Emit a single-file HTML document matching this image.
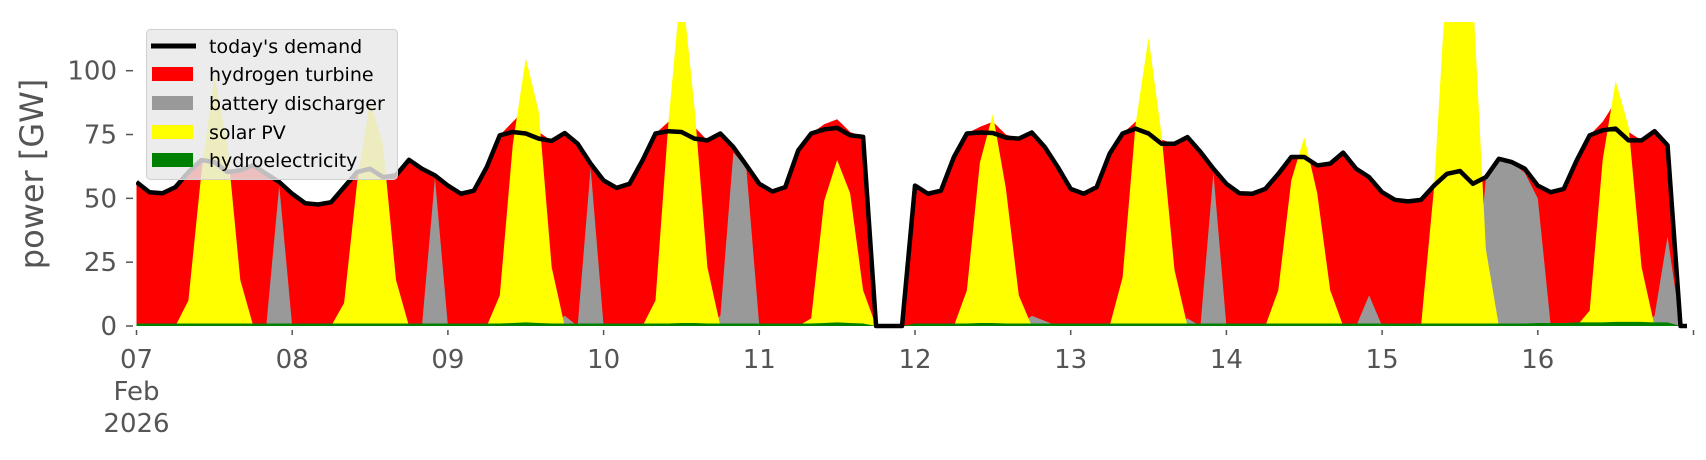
<!DOCTYPE html>
<html><head><meta charset="utf-8"><style>
html,body{margin:0;padding:0;background:#fff;}
svg{display:block;font-family:"DejaVu Sans","Liberation Sans",sans-serif;}
</style></head><body>
<svg id="chart" width="1706" height="460" viewBox="0 0 1706 460">
<defs><clipPath id="plotclip"><rect x="136" y="22" width="1552" height="310"/></clipPath></defs>
<g id="plot" clip-path="url(#plotclip)"></g>
<g id="axes"></g>
<text x="34" y="174" font-size="32" fill="#555" text-anchor="middle" dominant-baseline="middle" transform="rotate(-90 34 174)">power [GW]</text>
<g id="legend">
<rect x="146.5" y="29.5" width="251" height="150" rx="4" fill="rgba(232,232,232,0.82)" stroke="#d0d0d0"/>
<g><line x1="151" y1="46" x2="196" y2="46" stroke="#000" stroke-width="5"/><text x="209" y="53" font-size="19">today's demand</text></g>
<g><rect x="152" y="67" width="41" height="14" fill="#ff0000"/><text x="209" y="81" font-size="19">hydrogen turbine</text></g>
<g><rect x="152" y="96" width="41" height="14" fill="#999"/><text x="209" y="110" font-size="19">battery discharger</text></g>
<g><rect x="152" y="125" width="41" height="14" fill="#ffff00"/><text x="209" y="139" font-size="19">solar PV</text></g>
<g><rect x="152" y="153" width="41" height="14" fill="#008000"/><text x="209" y="167" font-size="19">hydroelectricity</text></g>
</g>
</svg>
<script>
// 2-hour samples, 12 per day, starting 07 Feb 00:00
const demand = [
56.4,52.4,52,54.4,60.3,65,64.2,60.3,61,63,59.6,56.4,
51.8,48.1,47.6,48.5,54.4,60.3,61.6,58.3,59,65.1,61.6,59,
55,51.8,53,62.3,74.7,76,75.4,73.4,72.5,75.6,71.4,63.6,
57,54.1,55.7,64.9,75.4,76.3,76,73.4,72.7,75.4,70.1,63,
55.7,52.7,54.4,68.8,75.4,77,77.6,74.7,74.1,0,0,0,
55,51.8,53,66.2,75.4,75.8,75.6,73.8,73.4,75.8,70.1,62.3,
53.7,51.8,54.4,67.5,75.4,77.3,75.4,71.4,71.4,74,68.2,61.6,
55.7,52,51.8,53.7,59.6,66.2,66.2,62.9,63.6,67.9,61.6,58.3,
52.4,49.4,48.8,49.4,55,59.6,60.7,55.7,58.3,65.5,64.2,61.6,
55,52.4,53.7,64.9,74.7,76.7,77.3,72.7,72.7,76.3,70.8,0];
const hydrogen = [
56.4,52.4,52,54.4,60.3,65,64.2,60.3,61,63,59.6,56.4,
51.8,48.1,47.6,48.5,54.4,60.3,61.6,58.3,59,65.1,61.6,59,
55,51.8,53,62.3,74.7,80,85,76,72.5,75.6,71.4,63.6,
57,54.1,55.7,64.9,75.4,80,95,78,72.7,75.4,70.1,63,
55.7,52.7,54.4,68.8,75.4,79,81,76,74.1,0,0,0,
55,51.8,53,66.2,75.4,78,80,75,73.4,75.8,70.1,62.3,
53.7,51.8,54.4,67.5,75.4,80,85,73,71.4,74,68.2,61.6,
55.7,52,51.8,53.7,59.6,66.2,66.2,62.9,63.6,67.9,61.6,58.3,
52.4,49.4,48.8,49.4,55,59.6,60.7,55.7,58.3,65.5,64.2,61.6,
55,52.4,53.7,64.9,74.7,80,88,76,72.7,76.3,70.8,0];
const battery = [
0,0,0,0,0,0,0,0,0,0,0,55,
0,0,0,0,0,0,0,0,0,0,0,58,
0,0,0,0,0,0,0,0,0,4,0,62,
0,0,0,0,0,0,0,0,0,4,68,62,
0,0,0,0,0,0,0,0,0,0,0,0,
0,0,0,0,0,0,0,0,0,4,2,0,
0,0,0,0,0,0,0,0,0,3,0,60,
0,0,0,0,0,0,0,0,0,0,0,12,
0,0,0,0,0,0,0,0,58,65,64,60,
50,0,0,0,0,0,0,0,0,4,35,0];
const solar = [
0,0,0,0,10,60,98,71,18,0,0,0,
0,0,0,0,9,56,88,71,18,0,0,0,
0,0,0,0,12,71,105,84,23,0,0,0,
0,0,0,0,10,80,135,86,23,0,0,0,
0,0,0,0,3,49,65,52,14,0,0,0,
0,0,0,0,14,64,83,54,12,0,0,0,
0,0,0,0,19,79,113,75,22,0,0,0,
0,0,0,0,14,57,74,52,14,0,0,0,
0,0,0,0,54,140,140,130,30,0,0,0,
0,0,0,0,6,65,96,78,23,0,0,0];
const hydro = [
1,1,1,1,1,1,1,1,1,1,1,1,
1,1,1,1,1,1,1,1,1,1,1,1,
1,1,1,1,1,1.2,1.4,1.2,1,1,1,1,
1,1,1,1,1,1,1.2,1.2,1,1,1,1,
1,1,1,1,1,1.2,1.4,1.2,1,0,0,0,
1,1,1,1,1,1.2,1.2,1,1,1,1,1,
1,1,1,1,1,1,1,1,1,1,1,1,
1,1,1,1,1,1,1,1,1,1,1,1,
1,1,1,1,1,1,1,1,1,1,1,1,
1.2,1.2,1.2,1.4,1.4,1.4,1.6,1.6,1.6,1.4,1.4,0];
const stepHours = 2;
const yTicks = [0,25,50,75,100];
const xTickLabels = ["07","08","09","10","11","12","13","14","15","16",""];

const X0 = 136.5, DAYPX = 155.7, Y0 = 326, YPX = 2.553;
function xs(h){ return X0 + h/24*DAYPX; }
function ys(v){ return Y0 - v*YPX; }
const NS = "http://www.w3.org/2000/svg";
const plot = document.getElementById('plot');
const axes = document.getElementById('axes');

function area(vals, color, name){
  let d = "M" + xs(0) + "," + ys(0);
  vals.forEach((v,i)=>{ d += " L" + xs(i*stepHours).toFixed(2) + "," + ys(v).toFixed(2); });
  d += " L" + xs((vals.length-1)*stepHours).toFixed(2) + "," + ys(0) + " Z";
  const p = document.createElementNS(NS,'path');
  p.setAttribute('d', d);
  p.setAttribute('fill', color);
  
  
  plot.appendChild(p);
}
area(hydrogen, '#ff0000', 'hydrogen-turbine-area');
area(battery, '#999999', 'battery-discharger-area');
area(solar, '#ffff00', 'solar-pv-area');
area(hydro, '#008000', 'hydroelectricity-area');

let ld = "";
demand.forEach((v,i)=>{ ld += (i? " L":"M") + xs(i*stepHours).toFixed(2) + "," + ys(v).toFixed(2); });
ld += " L" + xs(239) + "," + ys(0);
const line = document.createElementNS(NS,'path');
line.setAttribute('d', ld);
line.setAttribute('fill', 'none');
line.setAttribute('stroke', '#000');
line.setAttribute('stroke-width', '4.5');
line.setAttribute('stroke-linejoin', 'round');


plot.appendChild(line);

yTicks.forEach(v=>{
  const t = document.createElementNS(NS,'line');
  t.setAttribute('x1', 126); t.setAttribute('x2', 133);
  t.setAttribute('y1', ys(v)); t.setAttribute('y2', ys(v));
  t.setAttribute('stroke', '#555'); t.setAttribute('stroke-width', '1.5');
  
  
  axes.appendChild(t);
  const tx = document.createElementNS(NS,'text');
  tx.setAttribute('x', 117); tx.setAttribute('y', ys(v)+9);
  tx.setAttribute('text-anchor', 'end'); tx.setAttribute('font-size', '26'); tx.setAttribute('fill', '#555');
  tx.textContent = v;
  
  
  axes.appendChild(tx);
});
xTickLabels.forEach((lab,i)=>{
  const x = xs(i*24);
  const t = document.createElementNS(NS,'line');
  t.setAttribute('x1', x); t.setAttribute('x2', x);
  t.setAttribute('y1', 330); t.setAttribute('y2', 335);
  t.setAttribute('stroke', '#555'); t.setAttribute('stroke-width', '1.5');
  
  
  axes.appendChild(t);
  if(lab){
    const tx = document.createElementNS(NS,'text');
    tx.setAttribute('x', x); tx.setAttribute('y', 368);
    tx.setAttribute('text-anchor', 'middle'); tx.setAttribute('font-size', '26'); tx.setAttribute('fill', '#555');
    tx.textContent = lab;
    
    
    axes.appendChild(tx);
  }
});
[["Feb",400],["2026",432]].forEach(([s,y])=>{
  const tx = document.createElementNS(NS,'text');
  tx.setAttribute('x', xs(0)); tx.setAttribute('y', y);
  tx.setAttribute('text-anchor', 'middle'); tx.setAttribute('font-size', '26'); tx.setAttribute('fill', '#555');
  tx.textContent = s;
  
  
  axes.appendChild(tx);
});
</script>
</body></html>
